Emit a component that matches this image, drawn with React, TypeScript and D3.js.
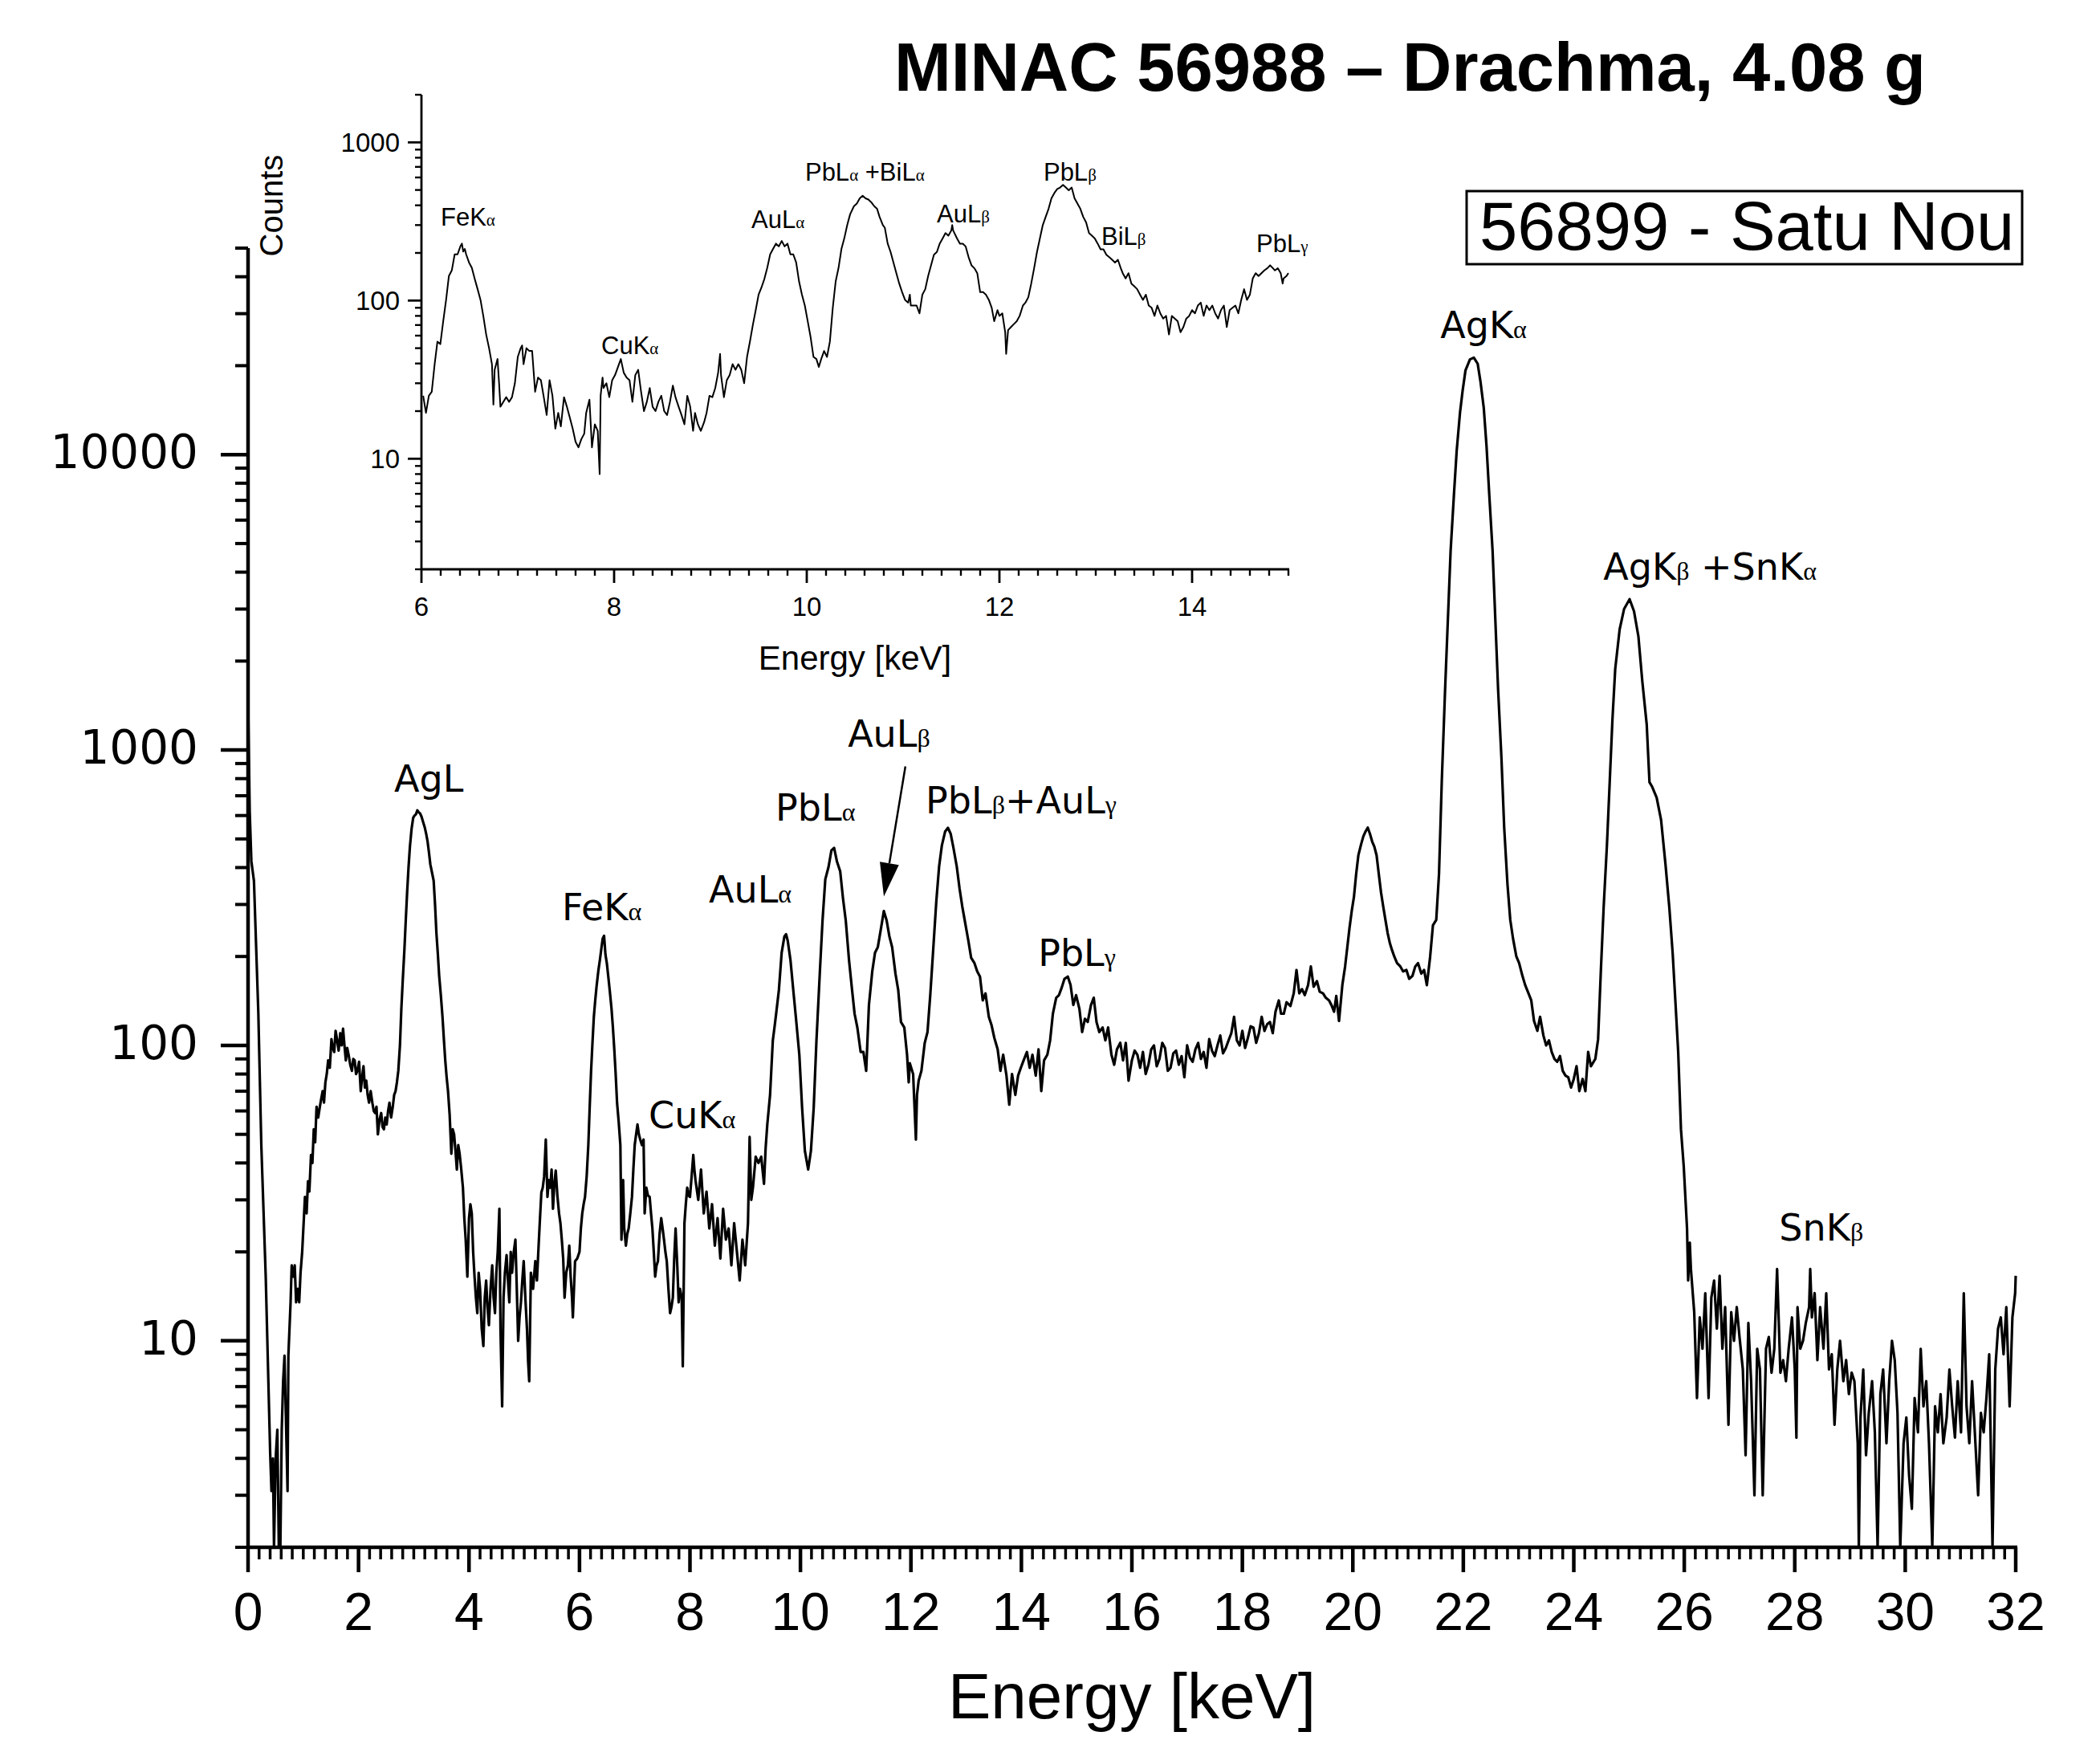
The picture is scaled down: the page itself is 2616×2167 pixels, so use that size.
import React from 'react';
import * as d3 from 'd3';

// ---------- DATA ----------
// main spectrum: [energy keV, counts]
const mainSpectrum: [number, number][] = [
[0,1500],[0.03,620],[0.06,420],[0.107,360],[0.186,129],[0.24,46],[0.32,16.5],[0.40,4.2],[0.424,3.1],[0.45,4],[0.47,2],[0.50,4],[0.53,5],[0.557,2],[0.585,2],[0.61,5],[0.635,7.3],[0.66,8.9],[0.69,5],[0.715,3.1],[0.73,8.9],[0.77,13.5],[0.79,18],[0.82,16.5],[0.845,18],[0.87,13.5],[0.90,15],[0.926,13.5],[0.95,17],[0.98,20],
[1.03,30.7],[1.06,27],[1.085,34.7],[1.11,32],[1.14,42.6],[1.165,40],[1.19,52],[1.215,47],[1.24,62],[1.27,57],[1.30,62],[1.325,66],[1.35,70],[1.375,64],[1.40,75],[1.425,80],[1.45,89],[1.48,84],[1.51,105],[1.535,98],[1.56,95],[1.585,112],[1.61,105],[1.64,96],[1.67,110],[1.695,100],[1.72,114],[1.745,100],[1.77,89],[1.795,98],[1.82,93],[1.85,86],[1.88,82],[1.905,90],[1.93,89],[1.955,80],[1.98,82],
[2.01,88],[2.04,70],[2.065,78],[2.09,85],[2.115,72],[2.14,76],[2.165,68],[2.19,64],[2.22,70],[2.25,64],[2.275,60],[2.30,59],[2.325,62],[2.35,50],[2.38,56],[2.41,59],[2.435,53],[2.46,52],[2.485,57],[2.51,54],[2.535,60],[2.56,64],[2.59,57],[2.62,62],[2.645,68],[2.67,70],[2.695,75],[2.72,82],[2.75,100],[2.775,133],[2.80,165],[2.83,210],[2.855,265],[2.88,330],[2.905,400],[2.93,470],[2.96,540],[2.99,590],
[3.015,600],[3.04,606],[3.065,625],[3.09,615],[3.115,610],[3.14,595],[3.17,570],[3.20,546],[3.225,520],[3.25,490],[3.275,450],[3.30,410],[3.33,385],[3.36,361],[3.385,300],[3.41,240],[3.435,205],[3.46,172],[3.49,148],[3.52,125],[3.545,105],[3.57,89],[3.595,78],[3.62,70],[3.65,58],[3.68,43],[3.705,52],[3.73,50],[3.755,44],[3.78,38],[3.805,46],[3.83,43],[3.86,38],[3.89,33],[3.915,26],[3.94,22],[3.97,16.5],
[4.0,26],[4.025,29],[4.05,27],[4.075,20],[4.10,16.5],[4.125,14],[4.15,12.4],[4.175,17],[4.20,15],[4.23,11],[4.26,9.6],[4.285,14],[4.31,16],[4.335,13],[4.36,11.3],[4.39,15],[4.42,18],[4.445,14],[4.47,12.4],[4.495,17],[4.52,20],[4.55,28],[4.57,10.9],[4.60,6],[4.625,14],[4.65,17],[4.68,19.5],[4.705,16],[4.73,13.5],[4.755,20],[4.78,17],[4.81,20],[4.84,22],[4.865,15],[4.89,10],[4.915,12],[4.94,13.5],[4.965,16],[4.99,18.6],
[5.02,14],[5.05,10.9],[5.07,8.5],[5.09,7.3],[5.12,17],[5.16,15],[5.20,18.6],[5.23,16],[5.26,21],[5.285,26],[5.31,31.8],[5.335,33],[5.36,36],[5.39,48],[5.42,30.7],[5.445,35],[5.47,33],[5.495,38],[5.52,28],[5.545,34],[5.57,37.7],[5.60,31],[5.63,27],[5.655,25],[5.68,22],[5.705,19],[5.73,14],[5.76,17],[5.79,18],[5.815,21],[5.84,16.5],[5.865,14],[5.88,12],[5.92,18.6],[5.96,19],
[6.0,20],[6.025,24],[6.05,27],[6.075,29],[6.10,30.7],[6.13,36],[6.16,46],[6.185,62],[6.21,82],[6.235,102],[6.26,125],[6.285,142],[6.31,159],[6.34,178],[6.37,195],[6.395,212],[6.42,230],[6.445,235],[6.47,203],[6.495,190],[6.52,172],[6.55,152],[6.58,133],[6.605,115],[6.63,97],[6.655,80],[6.68,64],[6.71,55],[6.74,46],[6.76,22],[6.79,35],[6.81,24],[6.84,21],[6.865,23],[6.89,24],[6.92,27],[6.95,30.7],[6.975,38],
[7.0,46],[7.025,50],[7.05,54],[7.075,50],[7.10,48],[7.13,46],[7.16,48],[7.18,27],[7.21,33],[7.24,31],[7.27,30.7],[7.295,27],[7.32,24],[7.345,20],[7.37,16.5],[7.395,18],[7.42,18.6],[7.45,23],[7.48,26],[7.505,24],[7.53,22],[7.555,20],[7.58,18.6],[7.61,15],[7.64,12.4],[7.665,13],[7.69,14],[7.715,19],[7.74,24],[7.77,18],[7.795,13.5],[7.82,15],[7.85,14],[7.87,8.2],[7.90,25],[7.925,29],[7.95,33],[7.975,31],
[8.0,30.7],[8.03,36],[8.06,42.6],[8.08,38],[8.10,35],[8.15,30],[8.2,38],[8.25,27],[8.3,32],[8.35,24],[8.4,29],[8.45,21],[8.5,26],[8.55,19],[8.6,28],[8.65,22],[8.7,24],[8.75,18],[8.8,25],[8.85,20],[8.9,16],[8.95,22],
[9.0,18],[9.05,25],[9.08,49],[9.11,30],[9.14,33],[9.19,42],[9.24,40],[9.29,42],[9.34,34],[9.37,45],[9.40,54],[9.45,68],[9.50,104],[9.53,115],[9.56,128],[9.61,154],[9.66,206],[9.71,234],[9.74,238],[9.77,226],[9.82,194],[9.87,154],[9.92,123],[9.98,93],
[10.03,61.5],[10.08,44],[10.14,38],[10.19,44],[10.24,61.5],[10.29,104],[10.35,175],[10.40,265],[10.45,365],[10.51,403],[10.56,457],[10.61,466],[10.66,420],[10.72,388],[10.77,315],[10.82,265],[10.88,194],[10.93,157],[10.98,128],
[11.03,115],[11.09,95],[11.14,95],[11.19,82],[11.24,137],[11.30,178],[11.35,206],[11.40,215],[11.45,244],[11.51,285],[11.56,265],[11.61,234],[11.66,215],[11.72,175],[11.77,154],[11.82,120],[11.88,115],[11.93,93],[11.96,75],[11.98,87],
[12.04,80],[12.09,48],[12.11,68],[12.14,76],[12.19,82],[12.25,102],[12.30,111],[12.35,148],[12.40,206],[12.46,308],[12.51,403],[12.56,475],[12.62,530],[12.67,545],[12.72,520],[12.77,466],[12.83,403],[12.88,340],[12.93,295],[12.99,255],
[13.04,226],[13.09,198],[13.15,190],[13.20,178],[13.25,171],[13.30,142],[13.35,150],[13.41,125],[13.46,117],[13.51,106],[13.57,97],[13.62,82],[13.67,93],[13.73,79],[13.78,63],[13.83,80],[13.89,68],[13.94,79],[13.99,84],
[14.04,89],[14.10,95],[14.15,84],[14.20,93],[14.26,79],[14.31,97],[14.36,70],[14.41,89],[14.47,93],[14.52,104],[14.57,128],[14.63,145],[14.68,148],[14.73,157],[14.78,168],[14.84,171],[14.89,160],[14.94,137],[14.99,148],
[15.05,133],[15.10,111],[15.15,123],[15.20,120],[15.26,137],[15.31,145],[15.36,120],[15.41,111],[15.47,115],[15.52,104],[15.57,115],[15.63,93],[15.68,86],[15.73,97],[15.79,102],[15.84,89],[15.89,102],[15.94,76],
[16.0,89],[16.05,96],[16.10,93],[16.15,84],[16.2,95],[16.25,80],[16.3,86],[16.35,97],[16.4,100],[16.45,85],[16.5,90],[16.55,102],[16.6,98],[16.65,82],[16.7,84],[16.75,94],[16.8,96],[16.85,86],[16.9,92],[16.95,78],
[17.0,100],[17.05,91],[17.1,88],[17.15,97],[17.2,102],[17.25,90],[17.3,95],[17.35,84],[17.4,105],[17.45,96],[17.5,92],[17.55,100],[17.6,108],[17.65,94],[17.7,98],[17.75,104],[17.8,110],[17.85,125],[17.9,104],[17.95,100],
[18.0,112],[18.05,98],[18.1,106],[18.15,116],[18.2,115],[18.25,102],[18.3,110],[18.35,125],[18.4,112],[18.45,118],[18.5,120],[18.55,110],[18.6,130],[18.66,142],[18.7,128],[18.75,128],[18.8,140],[18.87,136],[18.93,150],[18.98,180],
[19.03,150],[19.08,155],[19.13,148],[19.19,160],[19.24,185],[19.29,158],[19.35,165],[19.40,152],[19.46,150],[19.51,145],[19.57,142],[19.62,136],[19.66,130],[19.70,147],[19.75,121],[19.81,160],[19.86,185],[19.90,215],[19.94,250],[19.98,285],
[20.02,318],[20.06,380],[20.10,440],[20.15,480],[20.19,510],[20.23,530],[20.27,546],[20.31,520],[20.35,490],[20.39,470],[20.43,440],[20.47,380],[20.51,330],[20.55,295],[20.59,266],[20.63,240],[20.67,222],[20.71,210],[20.75,200],[20.80,190],[20.86,185],[20.91,178],[20.97,180],
[21.02,168],[21.08,172],[21.13,185],[21.18,190],[21.24,175],[21.29,180],[21.34,160],[21.40,200],[21.45,255],[21.51,266],[21.56,381],[21.61,782],[21.67,1600],[21.72,2750],[21.77,4720],[21.83,7300],[21.88,10300],[21.94,13870],[21.99,16600],
[22.04,19300],[22.12,21000],[22.19,21300],[22.26,20300],[22.31,17700],[22.37,14400],[22.42,10700],[22.47,7300],[22.53,4720],[22.58,2750],[22.63,1600],[22.69,940],[22.74,546],[22.80,350],[22.85,266],[22.90,230],[22.96,200],
[23.01,190],[23.07,172],[23.12,160],[23.18,150],[23.23,142],[23.28,121],[23.34,112],[23.39,125],[23.45,108],[23.5,100],[23.55,104],[23.6,95],[23.65,90],[23.7,88],[23.75,92],[23.8,82],[23.85,79],[23.9,78],[23.95,72],
[24.0,77],[24.05,85],[24.10,70],[24.16,77],[24.21,70],[24.26,95],[24.31,85],[24.39,90],[24.44,105],[24.49,179],[24.54,292],[24.60,477],[24.65,778],[24.70,1273],[24.75,1880],[24.83,2560],[24.91,3000],
[25.01,3240],[25.09,2950],[25.17,2420],[25.24,1710],[25.32,1220],[25.37,778],[25.42,750],[25.50,690],[25.58,580],[25.66,410],[25.73,292],[25.79,205],[25.84,140],[25.89,95],[25.94,52],[25.99,39],
[26.05,24],[26.07,16],[26.10,21.5],[26.12,17.5],[26.18,12.5],[26.23,6.4],[26.28,12],[26.33,9.4],[26.38,14.5],[26.44,6.4],[26.49,14],[26.54,16],[26.59,11],[26.64,16.6],[26.69,9.4],[26.74,13],[26.80,5.2],[26.85,12.5],[26.90,10],[26.95,13],
[27.0,10.3],[27.06,8],[27.11,4.1],[27.16,11.5],[27.21,7.3],[27.27,3],[27.32,9.4],[27.37,8],[27.42,3],[27.48,9.4],[27.53,10.3],[27.58,7.8],[27.63,9.4],[27.68,17.5],[27.74,7.8],[27.79,8.6],[27.84,7.3],[27.89,9.4],[27.95,12],
[28.0,8],[28.03,4.7],[28.05,13],[28.10,9.4],[28.15,10],[28.20,11.5],[28.26,13],[28.28,17.5],[28.31,12],[28.36,14.5],[28.41,8.6],[28.46,13],[28.52,9.4],[28.57,14.5],[28.62,8],[28.67,9],[28.72,5.2],[28.77,8],[28.82,10],[28.88,7.3],[28.93,8.6],[28.98,6.6],
[29.03,7.8],[29.08,7.3],[29.14,4.5],[29.16,2],[29.19,5.5],[29.24,8],[29.29,4.1],[29.34,5.7],[29.40,7.3],[29.45,4.9],[29.50,2],[29.55,6.6],[29.60,8],[29.66,4.5],[29.71,7.3],[29.76,10],[29.81,8.6],[29.86,5.7],[29.91,2],[29.97,4.5],
[30.02,5.5],[30.07,3.5],[30.12,2.7],[30.17,6.4],[30.23,4.9],[30.28,9.4],[30.33,6],[30.38,7.3],[30.43,4.5],[30.49,2],[30.54,6],[30.59,4.9],[30.64,6.6],[30.69,4.5],[30.75,5.5],[30.80,8],[30.85,6],[30.90,4.7],[30.95,7.3],
[31.01,4.9],[31.06,14.5],[31.11,6],[31.16,4.5],[31.21,7.3],[31.26,4.9],[31.32,3],[31.37,5.7],[31.42,4.9],[31.47,6.4],[31.52,9],[31.58,2],[31.63,8],[31.68,11],[31.73,12],[31.78,9],[31.83,13],[31.89,6],[31.94,12],[31.99,14.5],[32.0,16.6]
];

// inset spectrum (6-15 keV): [energy keV, counts]
const insetSpectrum: [number, number][] = [
[6.018,25],[6.047,19.5],[6.077,25],[6.107,26.5],[6.137,39.6],[6.166,55],[6.196,53],[6.226,74],[6.256,101],[6.285,143],[6.315,155],[6.345,196],[6.375,196],[6.404,220],[6.42,229],[6.434,204],[6.45,212],[6.464,196],[6.494,174],[6.523,161],[6.553,137],[6.583,118],[6.613,101],[6.642,80],[6.672,61],[6.702,50],[6.732,39.6],[6.747,22],[6.76,36.5],[6.79,42.7],[6.806,30],[6.82,21.3],[6.85,22.9],[6.88,24.5],[6.91,22.9],[6.94,24.5],[6.97,30],
[7.0,44],[7.03,50],[7.045,52],[7.06,39.6],[7.09,50],[7.12,48],[7.149,48],[7.18,26.5],[7.21,32.6],[7.24,31.4],[7.27,24.5],[7.30,18.9],[7.33,31.4],[7.36,25],[7.39,15.5],[7.42,19.5],[7.447,16],[7.48,24.5],[7.51,21.3],[7.54,18.2],[7.57,15.5],[7.60,12.8],[7.63,11.8],[7.66,13.3],[7.69,14.4],[7.71,19.5],[7.744,23.6],[7.77,11.8],[7.80,16.5],[7.83,15],[7.85,8],[7.86,25],[7.88,32.6],[7.89,28],[7.92,30],[7.95,24.5],[7.98,31.4],
[8.01,33.8],[8.04,38],[8.07,42.7],[8.10,35],[8.13,32.6],[8.16,31.4],[8.19,22.9],[8.22,33.8],[8.25,36.5],[8.28,26.5],[8.31,20],[8.34,22.9],[8.37,28],[8.40,21.3],[8.43,20],[8.46,22.9],[8.49,25],[8.52,20],[8.55,18.9],[8.58,22.9],[8.61,29],[8.637,24.5],[8.67,21.3],[8.70,18.9],[8.73,16.5],[8.76,25],[8.79,21.3],[8.82,15],[8.84,19.5],[8.87,16.5],[8.90,15],[8.934,17],[8.96,19.5],[8.99,25],
[9.02,24.5],[9.05,28],[9.08,35],[9.10,46],[9.11,33.8],[9.14,24.5],[9.17,31.4],[9.20,33.8],[9.23,39.6],[9.26,36.5],[9.29,39.6],[9.32,36.5],[9.35,30],[9.38,44],[9.41,55],[9.44,70],[9.47,87],[9.50,109],[9.53,121],[9.56,137],[9.59,161],[9.62,196],[9.65,212],[9.68,229],[9.71,220],[9.74,238],[9.77,220],[9.80,229],[9.83,196],[9.86,196],[9.89,174],[9.92,132],[9.95,109],[9.98,93],
[10.01,74],[10.04,58.6],[10.07,44],[10.10,42.7],[10.125,38],[10.15,42.7],[10.18,48],[10.21,44],[10.24,55],[10.27,90],[10.30,132],[10.33,161],[10.36,212],[10.39,248],[10.42,300],[10.45,351],[10.49,395],[10.52,410],[10.55,443],[10.58,460],[10.61,443],[10.64,435],[10.67,418],[10.70,395],[10.73,380],[10.756,338],[10.79,300],[10.81,289],[10.84,229],[10.87,203],[10.90,174],[10.93,149],[10.96,128],[10.99,113],
[11.02,101],[11.053,97],[11.07,109],[11.08,93],[11.11,93],[11.14,93],[11.17,83],[11.20,109],[11.23,118],[11.26,143],[11.29,167],[11.32,195],[11.351,203],[11.38,229],[11.41,247],[11.44,267],[11.47,257],[11.50,277],[11.51,300],[11.52,277],[11.56,247],[11.59,229],[11.62,229],[11.649,220],[11.68,188],[11.71,167],[11.74,160],[11.77,149],[11.80,113],[11.83,113],[11.86,109],[11.89,101],[11.92,90],[11.946,74],[11.98,87],
[12.0,80],[12.03,83],[12.06,63],[12.07,46],[12.09,65],[12.12,68],[12.15,71],[12.18,74],[12.21,80],[12.244,93],[12.27,97],[12.30,105],[12.33,128],[12.36,160],[12.39,203],[12.42,247],[12.45,300],[12.48,338],[12.51,380],[12.54,443],[12.57,478],[12.60,507],[12.63,518],[12.66,538],[12.69,518],[12.72,498],[12.75,518],[12.78,443],[12.81,410],[12.84,380],[12.87,338],[12.90,312],[12.93,267],[12.96,257],[12.99,247],
[13.02,229],[13.05,211],[13.08,211],[13.11,195],[13.14,188],[13.17,181],[13.20,174],[13.23,181],[13.26,160],[13.28,149],[13.31,138],[13.34,149],[13.37,128],[13.40,123],[13.43,118],[13.46,109],[13.49,101],[13.52,109],[13.55,93],[13.58,90],[13.61,80],[13.64,93],[13.67,83],[13.70,77],[13.73,80],[13.76,61],[13.79,80],[13.82,77],[13.85,74],[13.88,63],[13.91,68],[13.94,77],[13.97,80],
[14.0,87],[14.03,83],[14.06,93],[14.09,97],[14.12,80],[14.15,93],[14.18,87],[14.21,93],[14.24,83],[14.27,77],[14.30,87],[14.33,93],[14.36,68],[14.39,87],[14.42,90],[14.45,93],[14.48,83],[14.51,101],[14.54,118],[14.57,101],[14.60,109],[14.63,138],[14.66,149],[14.69,143],[14.72,149],[14.75,155],[14.78,160],[14.81,167],[14.84,160],[14.86,155],[14.89,160],[14.92,149],[14.94,128],[14.95,138],[14.98,143],[15.0,149]
];

const mainXTicks = [0, 2, 4, 6, 8, 10, 12, 14, 16, 18, 20, 22, 24, 26, 28, 30, 32];
const mainYTicks = [10, 100, 1000, 10000];
const insetXTicks = [6, 8, 10, 12, 14];
const insetYTicks = [10, 100, 1000];

// peak labels: text parts ([text, isGreek]) and anchor in data units (energy, counts)
type Part = [string, boolean];
const mainPeakLabels: { parts: Part[]; e: number; c: number }[] = [
  { parts: [['AgL', false]], e: 2.645, c: 722 },
  { parts: [['FeK', false], ['α', true]], e: 5.683, c: 266 },
  { parts: [['CuK', false], ['α', true]], e: 7.253, c: 52.6 },
  { parts: [['AuL', false], ['α', true]], e: 8.343, c: 304 },
  { parts: [['PbL', false], ['α', true]], e: 9.549, c: 575 },
  { parts: [['AuL', false], ['β', true]], e: 10.858, c: 1024 },
  { parts: [['PbL', false], ['β', true], ['+AuL', false], ['γ', true]], e: 12.267, c: 612 },
  { parts: [['PbL', false], ['γ', true]], e: 14.302, c: 186 },
  { parts: [['AgK', false], ['α', true]], e: 21.584, c: 24800 },
  { parts: [['AgK', false], ['β', true], [' +SnK', false], ['α', true]], e: 24.535, c: 3770 },
  { parts: [['SnK', false], ['β', true]], e: 27.718, c: 21.9 },
];
const insetPeakLabels: { parts: Part[]; e: number; c: number }[] = [
  { parts: [['FeK', false], ['α', true]], e: 6.2, c: 297 },
  { parts: [['CuK', false], ['α', true]], e: 7.867, c: 45.7 },
  { parts: [['AuL', false], ['α', true]], e: 9.425, c: 287 },
  { parts: [['PbL', false], ['α', true], [' +BiL', false], ['α', true]], e: 9.983, c: 570 },
  { parts: [['AuL', false], ['β', true]], e: 11.35, c: 311 },
  { parts: [['PbL', false], ['β', true]], e: 12.458, c: 570 },
  { parts: [['BiL', false], ['β', true]], e: 13.058, c: 226 },
  { parts: [['PbL', false], ['γ', true]], e: 14.667, c: 202 },
];
// arrow from AuLβ label down to its peak (data units)
const arrowFrom = { e: 11.9, c: 880 };
const arrowTo = { e: 11.51, c: 319 };

const titleText = 'MINAC 56988 – Drachma, 4.08 g';
const boxText = '56899 - Satu Nou';

// ---------- LAYOUT ----------
const W = 2616, H = 2167;
const SANS = "'Liberation Sans', Arial, sans-serif";
const WIDE = "'DejaVu Sans', 'Liberation Sans', sans-serif";
const SERIF = "'Liberation Serif', 'DejaVu Serif', serif";

function minorLog(lo: number, hi: number): number[] {
  const out: number[] = [];
  for (let d = 1; d <= hi; d *= 10) {
    for (let k = 2; k <= 9; k++) {
      const v = d * k;
      if (v >= lo && v <= hi) out.push(v);
    }
  }
  return out;
}

function Label({ x, y, parts, size, sub, family }: { x: number; y: number; parts: Part[]; size: number; sub: number; family: string }) {
  return (
    <text x={x} y={y} fontFamily={family} fontSize={size} fill="#000" style={{ whiteSpace: 'pre' }}>
      {parts.map(([t, g], i) =>
        g ? (
          <tspan key={i} fontFamily={SERIF} fontSize={sub}>{t}</tspan>
        ) : (
          <tspan key={i}>{t}</tspan>
        )
      )}
    </text>
  );
}

export default function App() {
  // main scales
  const x = d3.scaleLinear().domain([0, 32]).range([309, 2511]);
  const y = d3.scaleLog().domain([2, 50000]).range([1927, 309]);
  // inset scales
  const xi = d3.scaleLinear().domain([6, 15]).range([525, 1605]);
  const yi = d3.scaleLog().domain([2, 2000]).range([709, 118]);

  const mainLine = d3.line<[number, number]>()
    .x(d => x(d[0]))
    .y(d => y(Math.max(2, d[1])));
  const insetLine = d3.line<[number, number]>()
    .x(d => xi(d[0]))
    .y(d => yi(Math.max(2, d[1])));

  const mainXMinor = d3.range(0, 161).map(i => i / 5).filter(v => Math.round(v * 5) % 10 !== 0);
  const mainYMinor = minorLog(2, 50000);
  const insetXMinor = d3.range(30, 76).map(i => i / 5).filter(v => Math.round(v * 5) % 10 !== 0);
  const insetYMinor = minorLog(2, 2000);

  const ax0 = x(0), ay0 = y(2);
  const ix0 = xi(6), iy0 = yi(2);

  const ah = { x1: x(arrowFrom.e), y1: y(arrowFrom.c), x2: x(arrowTo.e), y2: y(arrowTo.c) };
  const ang = Math.atan2(ah.y2 - ah.y1, ah.x2 - ah.x1);
  const headLen = 42, headW = 12;
  const bx = ah.x2 - headLen * Math.cos(ang), by = ah.y2 - headLen * Math.sin(ang);
  const px = -Math.sin(ang) * headW, py = Math.cos(ang) * headW;

  return (
    <svg width={W} height={H} viewBox={`0 0 ${W} ${H}`} style={{ position: 'absolute', left: 0, top: 0, display: 'block', background: '#fff' }}>
      <rect x={0} y={0} width={W} height={H} fill="#fff" />

      {/* title */}
      <text x={1114} y={113} fontFamily={SANS} fontWeight="bold" fontSize={85} fill="#000">{titleText}</text>

      {/* sample box */}
      <rect x={1827} y={238} width={692} height={91} fill="none" stroke="#000" strokeWidth={3} />
      <text x={1843} y={311} fontFamily={SANS} fontSize={85} fill="#000">{boxText}</text>

      {/* ===== main chart ===== */}
      <path d={mainLine(mainSpectrum) || ''} fill="none" stroke="#000" strokeWidth={3.2} strokeLinejoin="round" />

      {/* y axis */}
      <line x1={ax0} x2={ax0} y1={ay0 + 2} y2={y(50000)} stroke="#000" strokeWidth={4.5} />
      {mainYTicks.map(t => (
        <line key={'ymj' + t} x1={ax0 - 34} x2={ax0} y1={y(t)} y2={y(t)} stroke="#000" strokeWidth={4.5} />
      ))}
      {mainYMinor.map(t => (
        <line key={'ymn' + t} x1={ax0 - 16} x2={ax0} y1={y(t)} y2={y(t)} stroke="#000" strokeWidth={4} />
      ))}
      {mainYTicks.map(t => (
        <text key={'yl' + t} x={ax0 - 62} y={y(t) + 17} textAnchor="end" fontFamily={WIDE} fontSize={58} fill="#000">{t}</text>
      ))}

      {/* x axis */}
      <line x1={ax0 - 2} x2={x(32) + 2} y1={ay0} y2={ay0} stroke="#000" strokeWidth={4.5} />
      {mainXTicks.map(t => (
        <line key={'xmj' + t} x1={x(t)} x2={x(t)} y1={ay0} y2={ay0 + 31} stroke="#000" strokeWidth={4.5} />
      ))}
      {mainXMinor.map(t => (
        <line key={'xmn' + t} x1={x(t)} x2={x(t)} y1={ay0} y2={ay0 + 15} stroke="#000" strokeWidth={3.5} />
      ))}
      {mainXTicks.map(t => (
        <text key={'xl' + t} x={x(t)} y={2030} textAnchor="middle" fontFamily={SANS} fontSize={66} fill="#000">{t}</text>
      ))}
      <text x={(x(0) + x(32)) / 2} y={2140} textAnchor="middle" fontFamily={SANS} fontSize={80} fill="#000">Energy [keV]</text>

      {/* main peak labels */}
      {mainPeakLabels.map((l, i) => (
        <Label key={'ml' + i} x={x(l.e)} y={y(l.c)} parts={l.parts} size={46} sub={32} family={WIDE} />
      ))}

      {/* arrow */}
      <line x1={ah.x1} y1={ah.y1} x2={bx} y2={by} stroke="#000" strokeWidth={2.5} />
      <polygon points={`${ah.x2},${ah.y2} ${bx + px},${by + py} ${bx - px},${by - py}`} fill="#000" />

      {/* ===== inset ===== */}
      <path d={insetLine(insetSpectrum) || ''} fill="none" stroke="#000" strokeWidth={2} strokeLinejoin="round" />
      <line x1={ix0} x2={ix0} y1={iy0 + 1} y2={yi(2000)} stroke="#000" strokeWidth={2.8} />
      {insetYTicks.map(t => (
        <line key={'iymj' + t} x1={ix0 - 17} x2={ix0} y1={yi(t)} y2={yi(t)} stroke="#000" strokeWidth={2.8} />
      ))}
      {insetYMinor.map(t => (
        <line key={'iymn' + t} x1={ix0 - 8} x2={ix0} y1={yi(t)} y2={yi(t)} stroke="#000" strokeWidth={2.4} />
      ))}
      {insetYTicks.map(t => (
        <text key={'iyl' + t} x={ix0 - 27} y={yi(t) + 12} textAnchor="end" fontFamily={SANS} fontSize={33} fill="#000">{t}</text>
      ))}
      <line x1={ix0 - 1} x2={xi(15) + 1} y1={iy0} y2={iy0} stroke="#000" strokeWidth={2.8} />
      {insetXTicks.map(t => (
        <line key={'ixmj' + t} x1={xi(t)} x2={xi(t)} y1={iy0} y2={iy0 + 17} stroke="#000" strokeWidth={2.8} />
      ))}
      {insetXMinor.map(t => (
        <line key={'ixmn' + t} x1={xi(t)} x2={xi(t)} y1={iy0} y2={iy0 + 8} stroke="#000" strokeWidth={2.4} />
      ))}
      {insetXTicks.map(t => (
        <text key={'ixl' + t} x={xi(t)} y={767} textAnchor="middle" fontFamily={SANS} fontSize={33} fill="#000">{t}</text>
      ))}
      <text x={(xi(6) + xi(15)) / 2} y={834} textAnchor="middle" fontFamily={SANS} fontSize={42} fill="#000">Energy [keV]</text>
      <text transform="translate(352,256) rotate(-90)" textAnchor="middle" fontFamily={SANS} fontSize={40} fill="#000">Counts</text>

      {insetPeakLabels.map((l, i) => (
        <Label key={'il' + i} x={xi(l.e)} y={yi(l.c)} parts={l.parts} size={31} sub={21} family={SANS} />
      ))}
    </svg>
  );
}
